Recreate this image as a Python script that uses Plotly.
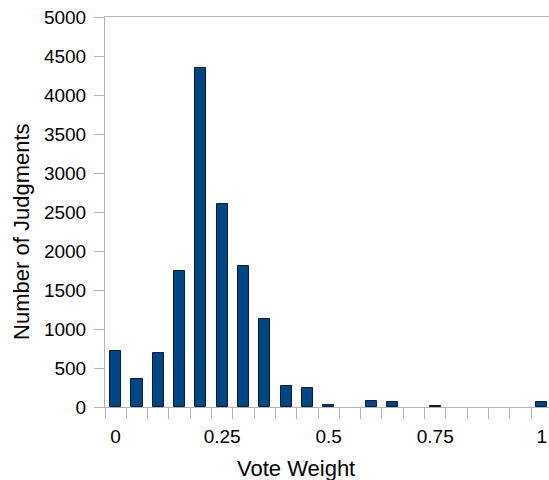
import plotly.graph_objects as go

weights = [0.0, 0.05, 0.1, 0.15, 0.2, 0.25, 0.3, 0.35, 0.4, 0.45, 0.5,
           0.55, 0.6, 0.65, 0.7, 0.75, 0.8, 0.85, 0.9, 0.95, 1.0]
counts = [715, 355, 695, 1745, 4350, 2600, 1810, 1125, 265, 245, 30,
          0, 80, 62, 0, 10, 0, 0, 0, 0, 60]
tick_vals = [0, 0.25, 0.5, 0.75, 1]
tick_text = ["0", "0.25", "0.5", "0.75", "1"]
x_title = "Vote Weight"
y_title = "Number of Judgments"

# no outline on empty bins
outline_widths = [1 if c > 0 else 0 for c in counts]

fig = go.Figure(go.Bar(
    x=weights, y=counts, width=0.026,
    marker=dict(color="#004586", line=dict(color="#0b1e33", width=outline_widths)),
))

axis_gray = "#b3b3b3"
font = "Liberation Sans, Arial, sans-serif"

fig.update_layout(
    width=549, height=480,
    margin=dict(l=105, r=0, t=17, b=73),
    paper_bgcolor="white", plot_bgcolor="white",
    showlegend=False,
    font=dict(family=font, size=19, color="#000000"),
    bargap=0,
    annotations=[
        dict(text=x_title, xref="paper", yref="paper", x=0.43, y=0,
             xanchor="center", yanchor="top", yshift=-47, showarrow=False,
             font=dict(size=22)),
        dict(text=y_title, xref="paper", yref="paper", x=0, y=0.449,
             xanchor="center", yanchor="middle", xshift=-83, textangle=-90,
             showarrow=False, font=dict(size=22)),
    ],
)
fig.update_xaxes(
    range=[-0.025, 1.017],
    tickmode="array", tickvals=tick_vals, ticktext=tick_text,
    ticks="outside", ticklen=12, tickcolor="rgba(0,0,0,0)",
    showgrid=False, zeroline=False,
    showline=True, linecolor=axis_gray, linewidth=1, mirror=True,
    minor=dict(ticks="outside", ticklen=11, tickcolor=axis_gray,
               tick0=0.025, dtick=0.05, showgrid=False),
    tickfont=dict(size=19),
    ticklabeloverflow="allow",
    automargin=False,
)
fig.update_yaxes(
    range=[0, 5000], dtick=500, tick0=0,
    ticks="outside", ticklen=10, tickcolor=axis_gray,
    showgrid=False, zeroline=False,
    showline=True, linecolor=axis_gray, linewidth=1,
    tickfont=dict(size=19),
    ticklabelstandoff=4,
    ticklabeloverflow="allow",
    automargin=False,
)

fig.write_html(
    "out.html",
    config={"displayModeBar": False},
    post_script="document.body.style.margin='0';document.body.style.overflow='hidden';",
)
